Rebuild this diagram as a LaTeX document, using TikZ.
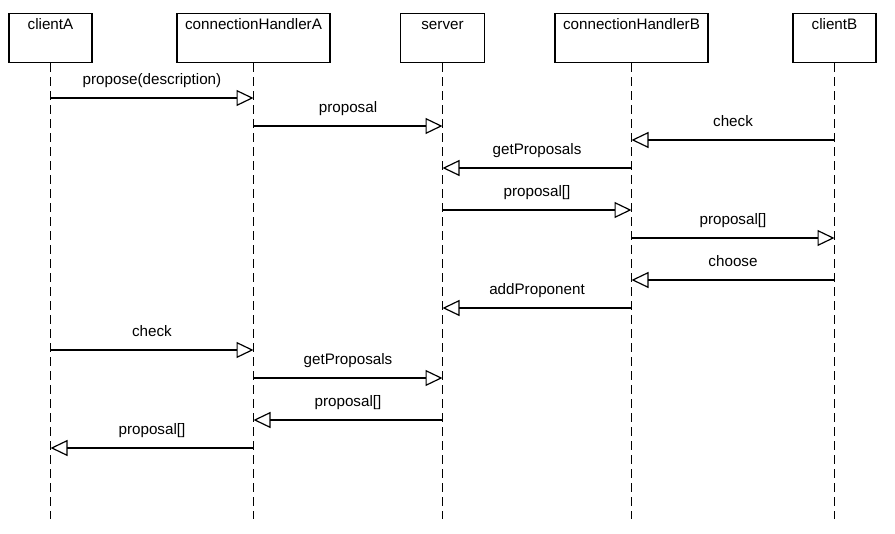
\documentclass[tikz,border=0pt]{standalone}
\usepackage{fontspec}
\setmainfont{Liberation Sans}
\usetikzlibrary{arrows.meta}
\begin{document}
\begin{tikzpicture}[x=1pt,y=-1pt,
  objbox/.style={draw,line width=1.3pt,minimum height=49pt,inner sep=0pt,anchor=north},
  objname/.style={anchor=base,font=\fontsize{15.2}{17}\selectfont,inner sep=0pt},
  lifeline/.style={line width=1.2pt,dash pattern=on 9pt off 5pt},
  msg/.style={line width=1.2pt,-{Triangle[open,length=17pt,width=16pt,line width=1.2pt]}},
  msglabel/.style={anchor=base,font=\fontsize{15.2}{17}\selectfont,inner sep=0pt}]
\useasboundingbox[fill=white] (0,0) rectangle (895,534);
% objects
\node[objbox,minimum width=83pt] (bA) at (50.5,13) {};
\node[objbox,minimum width=153pt] (bHA) at (253.5,13) {};
\node[objbox,minimum width=84pt] (bS) at (442.5,13) {};
\node[objbox,minimum width=153pt] (bHB) at (631.5,13) {};
\node[objbox,minimum width=83pt] (bB) at (834.5,13) {};
\node[objname] (tA) at (50.5,29.5) {clientA};
\node[objname] (tHA) at (253.5,29.5) {connectionHandlerA};
\node[objname] (tS) at (442.5,29.5) {server};
\node[objname] (tHB) at (631.5,29.5) {connectionHandlerB};
\node[objname] (tB) at (834.5,29.5) {clientB};
% lifelines
\coordinate (eA) at (50.5,519);
\coordinate (eHA) at (253.5,519);
\coordinate (eS) at (442.5,519);
\coordinate (eHB) at (631.5,519);
\coordinate (eB) at (834.5,519);
\draw[lifeline] (bA.south) -- (eA);
\draw[lifeline] (bHA.south) -- (eHA);
\draw[lifeline] (bS.south) -- (eS);
\draw[lifeline] (bHB.south) -- (eHB);
\draw[lifeline] (bB.south) -- (eB);
% messages
\draw[msg] (bA.south |- 0,98) -- node[msglabel,pos=0.5,yshift=13.5pt] (m1) {propose(description)} (bHA.south |- 0,98);
\draw[msg] (bHA.south |- 0,126) -- node[msglabel,pos=0.5,yshift=13.5pt] (m2) {proposal} (bS.south |- 0,126);
\draw[msg] (bB.south |- 0,140) -- node[msglabel,pos=0.5,yshift=13.5pt] (m3) {check} (bHB.south |- 0,140);
\draw[msg] (bHB.south |- 0,168) -- node[msglabel,pos=0.5,yshift=13.5pt] (m4) {getProposals} (bS.south |- 0,168);
\draw[msg] (bS.south |- 0,210) -- node[msglabel,pos=0.5,yshift=13.5pt] (m5) {proposal[]} (bHB.south |- 0,210);
\draw[msg] (bHB.south |- 0,238) -- node[msglabel,pos=0.5,yshift=13.5pt] (m6) {proposal[]} (bB.south |- 0,238);
\draw[msg] (bB.south |- 0,280) -- node[msglabel,pos=0.5,yshift=13.5pt] (m7) {choose} (bHB.south |- 0,280);
\draw[msg] (bHB.south |- 0,308) -- node[msglabel,pos=0.5,yshift=13.5pt] (m8) {addProponent} (bS.south |- 0,308);
\draw[msg] (bA.south |- 0,350) -- node[msglabel,pos=0.5,yshift=13.5pt] (m9) {check} (bHA.south |- 0,350);
\draw[msg] (bHA.south |- 0,378) -- node[msglabel,pos=0.5,yshift=13.5pt] (m10) {getProposals} (bS.south |- 0,378);
\draw[msg] (bS.south |- 0,420) -- node[msglabel,pos=0.5,yshift=13.5pt] (m11) {proposal[]} (bHA.south |- 0,420);
\draw[msg] (bHA.south |- 0,448) -- node[msglabel,pos=0.5,yshift=13.5pt] (m12) {proposal[]} (bA.south |- 0,448);
\end{tikzpicture}
\end{document}
